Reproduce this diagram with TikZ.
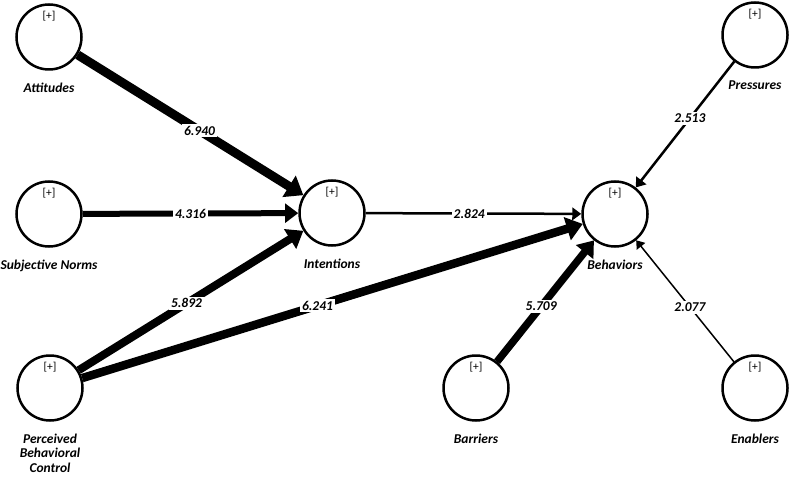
\documentclass[tikz,border=0pt]{standalone}
\usepackage{fontspec}
\setmainfont{Carlito}
\usetikzlibrary{arrows.meta}

\begin{document}
\begin{tikzpicture}[->, >={Triangle[length=6pt 1.2, width=8pt 1.8]}, x=1pt, y=-1pt,
    latent/.style={circle, draw, fill=white, line width=2.5pt, minimum size=65pt, inner sep=0pt,
        label={[font=\fontsize{11.5}{13}\selectfont, anchor=north, yshift=-4pt]north:{[+]}}},
    tag/.style={font=\bfseries\itshape\fontsize{13.5}{14.5}\selectfont, align=center},
    val/.style={fill=white, inner sep=2pt, font=\bfseries\itshape\fontsize{13.5}{14.5}\selectfont}]
    \useasboundingbox (0,0) rectangle (791,478);
    % constructs
    \node[latent, label={[tag, label distance=8.5pt]below:Attitudes}] (att) at (49,37) {};
    \node[latent, label={[tag, label distance=8.5pt]below:Subjective Norms}] (sn) at (49,214) {};
    \node[latent, label={[tag, label distance=8.5pt]below:Perceived\\Behavioral\\Control}] (pbc) at (50,388) {};
    \node[latent, label={[tag, label distance=8.5pt]below:Intentions}] (int) at (332,213) {};
    \node[latent, label={[tag, label distance=8.5pt]below:Behaviors}] (beh) at (615,214) {};
    \node[latent, label={[tag, label distance=8.5pt]below:Pressures}] (pres) at (755,35) {};
    \node[latent, label={[tag, label distance=8.5pt]below:Barriers}] (bar) at (476,388) {};
    \node[latent, label={[tag, label distance=8.5pt]below:Enablers}] (ena) at (755,388) {};
    % paths
    \draw (att) edge[line width=9pt] node[val, pos=.54] {6.940} (int);
    \draw (sn) edge[line width=6pt] node[val, pos=.5] {4.316} (int);
    \draw (pbc) edge[line width=8pt] node[val, pos=.48] {5.892} (int);
    \draw (pbc) edge[line width=8.5pt] node[val, pos=.47] {6.241} (beh);
    \draw (int) edge[line width=2.5pt] node[val, pos=.48] {2.824} (beh);
    \draw (pres) edge[line width=2.5pt] node[val, pos=.45] {2.513} (beh);
    \draw (ena) edge[line width=1.5pt] node[val, pos=.45] {2.077} (beh);
    \draw (bar) edge[line width=7.5pt] node[val, pos=.455] {5.709} (beh);
\end{tikzpicture}
\end{document}
